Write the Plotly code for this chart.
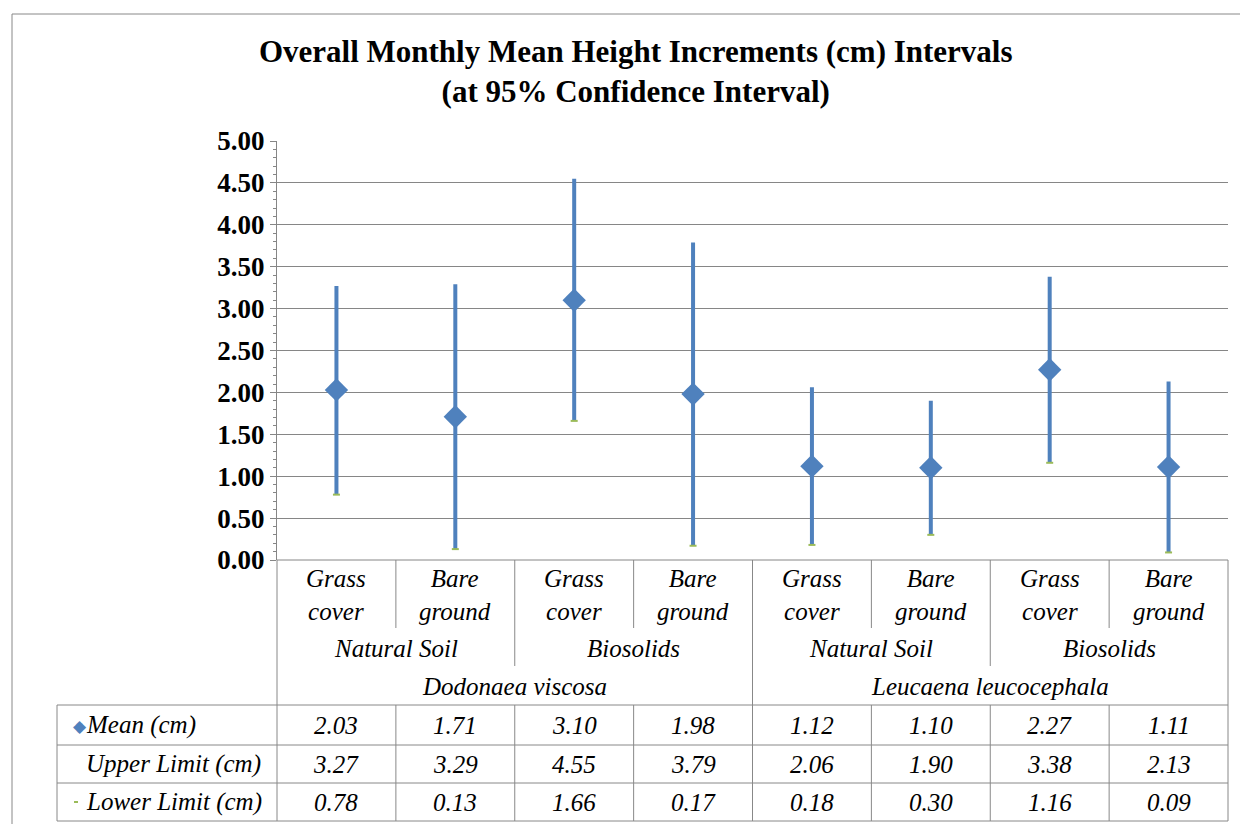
import plotly.graph_objects as go

cats = ["Grass<br>cover", "Bare<br>ground"] * 4
groups = ["Natural Soil", "Biosolids", "Natural Soil", "Biosolids"]
species = ["Dodonaea viscosa", "Leucaena leucocephala"]
mean = [2.03, 1.71, 3.10, 1.98, 1.12, 1.10, 2.27, 1.11]
upper = [3.27, 3.29, 4.55, 3.79, 2.06, 1.90, 3.38, 2.13]
lower = [0.78, 0.13, 1.66, 0.17, 0.18, 0.30, 1.16, 0.09]
yticks = [0, 0.5, 1, 1.5, 2, 2.5, 3, 3.5, 4, 4.5, 5]

FONT = "Liberation Serif"
BLUE = "#4f81bd"
OFF = 8  # page offset
L, R, T, B = 277, 1228, 141, 560
W, H = R - L, B - T
px = lambda x: (x - L) / W
py = lambda y: (B - y) / H

xs = [i + 0.5 for i in range(8)]
lx, ly = [], []
for x, lo, up in zip(xs, lower, upper):
    lx += [x, x, None]; ly += [lo, up, None]

fig = go.Figure()
fig.add_trace(go.Scatter(x=lx, y=ly, mode="lines", line=dict(color=BLUE, width=4), showlegend=False))
fig.add_trace(go.Scatter(x=xs, y=lower, mode="markers", marker=dict(symbol="line-ew", size=5, line=dict(color="#9bbb59", width=2)), showlegend=False))
fig.add_trace(go.Scatter(x=xs, y=mean, mode="markers", marker=dict(symbol="diamond", size=18, color=BLUE), showlegend=False))

shapes, ann = [], []
def line(x0, y0, x1, y1, c="#888888"):
    shapes.append(dict(type="line", xref="paper", yref="paper", x0=px(x0), y0=py(y0), x1=px(x1), y1=py(y1), line=dict(color=c, width=1)))
def text(x, y, s, size=25, align="center"):
    ann.append(dict(xref="paper", yref="paper", x=px(x), y=py(y), text=s, showarrow=False, xanchor=align, yanchor="middle",
                    font=dict(family=FONT, size=size, color="black", style="italic")))

cw = W / 8
line(12, 14, 1245, 14); line(12, 14, 12, 830); line(1245, 14, 1245, 830)
line(L, B, L, 821); line(R, B, R, 821)
for i in range(1, 8):
    xb = L + i * cw
    if i == 4:
        line(xb, B, xb, 821)
    elif i % 2 == 0:
        line(xb, B, xb, 666)
    else:
        line(xb, B, xb, 628)
for i in range(8):
    text(L + (i + 0.5) * cw, 595, cats[i])
for g in range(4):
    text(L + (2 * g + 1) * cw, 648, groups[g])
for s in range(2):
    text(L + (4 * s + 2) * cw, 686, species[s])
for yy in [705, 745, 783, 821]:
    line(57, yy, R, yy)
line(57, 705, 57, 821)
for i in range(1, 8):
    xb = L + i * cw
    line(xb, 705, xb, 821)
rows = [("Mean (cm)", mean, 725), ("Upper Limit (cm)", upper, 764), ("Lower Limit (cm)", lower, 802)]
for name, vals, yy in rows:
    text(84, yy, name, align="left")
    for i, v in enumerate(vals):
        text(L + (i + 0.5) * cw, yy, f"{v:.2f}")
ann.append(dict(xref="paper", yref="paper", x=px(71), y=py(725), yanchor="middle", text="◆", showarrow=False, font=dict(size=17, color=BLUE)))
shapes.append(dict(type="line", xref="paper", yref="paper", x0=px(74), x1=px(78), y0=py(802), y1=py(802), line=dict(color="#9bbb59", width=2)))

fig.update_layout(
    width=1248, height=824,
    margin=dict(l=L - OFF, r=1248 - R + OFF, t=T - OFF, b=824 - B + OFF, autoexpand=False),
    plot_bgcolor="white", paper_bgcolor="white",
    title=dict(text="Overall Monthly Mean Height Increments (cm) Intervals<br>(at 95% Confidence Interval)",
               x=0.503, xanchor="center", xref="container", y=0.935, yanchor="top", yref="container",
               font=dict(family=FONT, size=31, color="black", weight="bold")),
    xaxis=dict(range=[0, 8], showticklabels=False, showgrid=False, zeroline=False, fixedrange=True),
    yaxis=dict(range=[0, 5], tickvals=yticks, ticktext=[f"{v:.2f}" for v in yticks], showgrid=True,
               gridcolor="#868686", zeroline=False, showline=True, linecolor="#868686", ticks="outside",
               ticklen=6, tickcolor="#868686",
               minor=dict(dtick=0.1, ticks="outside", ticklen=3, tickcolor="#868686", showgrid=False),
               tickfont=dict(family=FONT, size=27, color="black", weight="bold")),
    shapes=shapes, annotations=ann,
)
fig.add_shape(type="line", xref="paper", yref="paper", x0=0, x1=1, y0=0, y1=0, line=dict(color="#868686", width=1))
fig.write_html("out.html")
